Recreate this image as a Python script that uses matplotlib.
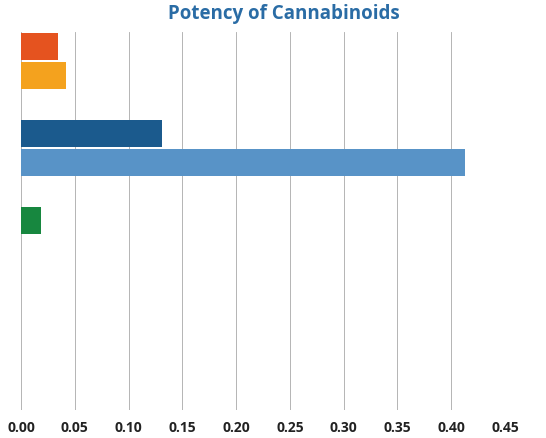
import matplotlib
matplotlib.use("Agg")
import matplotlib.pyplot as plt
import numpy as np

# Data
groups = ["Group 1", "Group 2", "Group 3"]
series_a = [0.034, 0.131, 0.019]   # first bar of each group
series_b = [0.042, 0.413, 0.0]     # second bar of each group
colors_a = ["#E5531F", "#1B5A8D", "#17873F"]
colors_b = ["#F4A21E", "#5893C7", "#5893C7"]
xticks = [0.00, 0.05, 0.10, 0.15, 0.20, 0.25, 0.30, 0.35, 0.40, 0.45]
title = "Potency of Cannabinoids"

fig = plt.figure(figsize=(5.46, 4.38), dpi=100)
ax = fig.add_axes([21/546, 1-410/438, (505-21)/546, (410-32)/438])

g = np.arange(len(groups))
h = 0.31
off = 0.167
ax.barh(g - off, series_a, height=h, color=colors_a, zorder=3)
ax.barh(g + off, series_b, height=h, color=colors_b, zorder=3)

ax.set_xlim(0, 0.45)
ax.set_ylim(4.01, -0.333)
ax.set_xticks(xticks)
ax.set_xticklabels([f"{t:.2f}" for t in xticks], fontsize=10, fontweight="bold",
                   color="#222222", family="Open Sans")
ax.tick_params(axis="x", length=0, pad=8)
ax.set_yticks([])
for s in ax.spines.values():
    s.set_visible(False)
ax.grid(axis="x", color="#a8a8a8", linewidth=0.6, zorder=0)

fig.text(284/546, 1-14/438, title, ha="center", va="center", fontsize=13.5,
         fontweight="bold", color="#2A6CA5", family="Open Sans")

fig.savefig("out.png", dpi=100)
